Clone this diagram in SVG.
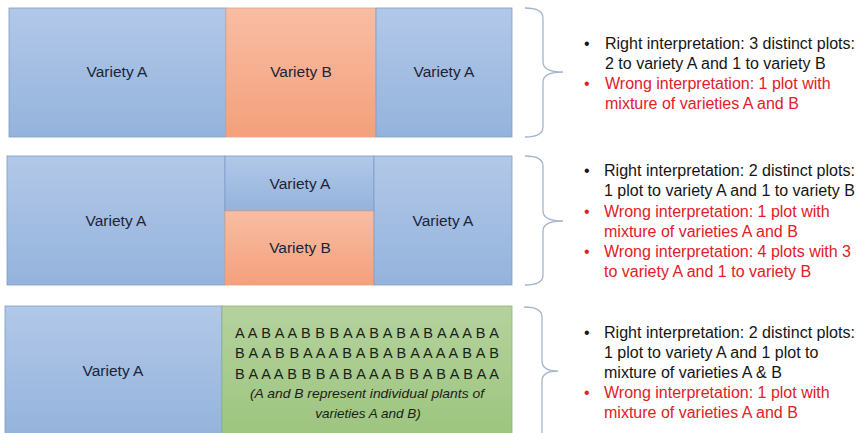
<svg xmlns="http://www.w3.org/2000/svg" width="862" height="433" viewBox="0 0 862 433">
<defs>
<linearGradient id="gBlue" x1="0" y1="0" x2="0" y2="1"><stop offset="0" stop-color="#b2c8e8"/><stop offset="1" stop-color="#94b3dc"/></linearGradient>
<linearGradient id="gOrange" x1="0" y1="0" x2="0" y2="1"><stop offset="0" stop-color="#f8bda4"/><stop offset="1" stop-color="#f4a07b"/></linearGradient>
<linearGradient id="gGreen" x1="0" y1="0" x2="0" y2="1"><stop offset="0" stop-color="#b5d29d"/><stop offset="1" stop-color="#9cc57f"/></linearGradient>
</defs>
<style>
.blue{fill:url(#gBlue);stroke:#7f9cc6;stroke-width:0.8}
.orange{fill:url(#gOrange);stroke:#e9a07f;stroke-width:0.8}
.green{fill:url(#gGreen);stroke:#8fb377;stroke-width:0.8}
.lbl{font-family:"Liberation Sans",Arial,sans-serif;font-size:15.5px;fill:#1c2438;text-anchor:middle}
.mix{font-family:"Liberation Sans",Arial,sans-serif;font-size:14.5px;fill:#1a2218;text-anchor:middle}
.note{font-family:"Liberation Sans",Arial,sans-serif;font-size:13.5px;font-style:italic;fill:#1a2218;text-anchor:middle}
.b{font-family:"Liberation Sans",Arial,sans-serif;font-size:16px;fill:#151515}
.r{font-family:"Liberation Sans",Arial,sans-serif;font-size:16px;fill:#e0202a}
.brace{fill:none;stroke:#a3b6ca;stroke-width:1.3}
</style>
<rect width="862" height="433" fill="#ffffff"/>

<g id="panel1">
<rect class="blue" x="9" y="8" width="217" height="129"/>
<rect class="orange" x="226" y="8" width="150" height="129"/>
<rect class="blue" x="376" y="8" width="136" height="129"/>
<text class="lbl" x="117" y="77">Variety A</text>
<text class="lbl" x="301" y="77">Variety B</text>
<text class="lbl" x="444" y="77">Variety A</text>
</g>

<g id="panel2">
<rect class="blue" x="7" y="156" width="218" height="129"/>
<rect class="blue" x="225" y="156" width="149" height="55"/>
<rect class="orange" x="225" y="211" width="149" height="74"/>
<rect class="blue" x="374" y="156" width="138" height="129"/>
<text class="lbl" x="116" y="226">Variety A</text>
<text class="lbl" x="300" y="189">Variety A</text>
<text class="lbl" x="300" y="253">Variety B</text>
<text class="lbl" x="443" y="226">Variety A</text>
</g>

<g id="panel3">
<rect class="blue" x="5" y="306" width="217" height="130"/>
<rect class="green" x="222" y="306" width="290" height="130"/>
<text class="lbl" x="113" y="376">Variety A</text>
<text class="mix" x="367" y="338" textLength="264" lengthAdjust="spacing">A A B A A B B B A A B A B A B A A A B A</text>
<text class="mix" x="367" y="358" textLength="264" lengthAdjust="spacing">B A A B B A A A B A B A B A A A A B A B</text>
<text class="mix" x="367" y="379" textLength="264" lengthAdjust="spacing">B A A A B B B A B A A A B B A B A B A A</text>
<text class="note" x="367" y="398" textLength="234" lengthAdjust="spacingAndGlyphs">(A and B represent individual plants of</text>
<text class="note" x="368" y="418">varieties A and B)</text>
</g>

<g id="connectors">
<path class="brace" d="M525,8 Q543,8 543,18 L543,62 Q543,72 563,72 Q543,72 543,82 L543,127 Q543,137 525,137"/>
<path class="brace" d="M525,156 Q543,156 543,166 L543,211 Q543,221 563,221 Q543,221 543,231 L543,275 Q543,285 525,285"/>
<path class="brace" d="M524,307 Q542,307 542,317 L542,361 Q542,371 558,371 Q542,371 542,381 L542,440"/>
</g>

<g id="notes1">
<text class="b" x="584" y="49">•</text>
<text class="b" x="605" y="49" textLength="250" lengthAdjust="spacingAndGlyphs">Right interpretation: 3 distinct plots:</text>
<text class="b" x="605" y="69">2 to variety A and 1 to variety B</text>
<text class="r" x="584" y="89">•</text>
<text class="r" x="605" y="89">Wrong interpretation: 1 plot with</text>
<text class="r" x="605" y="109">mixture of varieties A and B</text>
</g>

<g id="notes2">
<text class="b" x="584" y="176">•</text>
<text class="b" x="604" y="176" textLength="251" lengthAdjust="spacingAndGlyphs">Right interpretation: 2 distinct plots:</text>
<text class="b" x="604" y="196">1 plot to variety A and 1 to variety B</text>
<text class="r" x="584" y="217">•</text>
<text class="r" x="604" y="217">Wrong interpretation: 1 plot with</text>
<text class="r" x="604" y="237">mixture of varieties A and B</text>
<text class="r" x="584" y="257">•</text>
<text class="r" x="604" y="257">Wrong interpretation: 4 plots with 3</text>
<text class="r" x="604" y="277">to variety A and 1 to variety B</text>
</g>

<g id="notes3">
<text class="b" x="584" y="338">•</text>
<text class="b" x="604" y="338" textLength="251" lengthAdjust="spacingAndGlyphs">Right interpretation: 2 distinct plots:</text>
<text class="b" x="604" y="358">1 plot to variety A and 1 plot to</text>
<text class="b" x="604" y="378">mixture of varieties A &amp; B</text>
<text class="r" x="584" y="398">•</text>
<text class="r" x="604" y="398">Wrong interpretation: 1 plot with</text>
<text class="r" x="604" y="418">mixture of varieties A and B</text>
</g>
</svg>
